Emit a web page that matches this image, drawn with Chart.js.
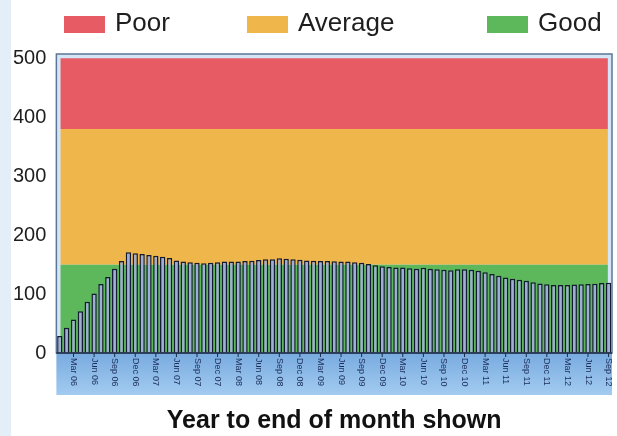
<!DOCTYPE html>
<html>
<head>
<meta charset="utf-8">
<script src="https://cdn.jsdelivr.net/npm/chart.js@4/dist/chart.umd.min.js"></script>
<style>
  html, body { margin: 0; padding: 0; background: #fff; }
  #wrap { width: 617px; height: 436px; background: linear-gradient(to right, #e4eef8 0, #e4eef8 11px, #fff 11px); }
</style>
</head>
<body>
<div id="wrap"><canvas id="c" width="617" height="436"></canvas></div>
<script>
// Monthly categories, Jan 06 to Sep 12
const months = [
  'Jan 06','Feb 06','Mar 06','Apr 06','May 06','Jun 06','Jul 06','Aug 06','Sep 06','Oct 06','Nov 06','Dec 06',
  'Jan 07','Feb 07','Mar 07','Apr 07','May 07','Jun 07','Jul 07','Aug 07','Sep 07','Oct 07','Nov 07','Dec 07',
  'Jan 08','Feb 08','Mar 08','Apr 08','May 08','Jun 08','Jul 08','Aug 08','Sep 08','Oct 08','Nov 08','Dec 08',
  'Jan 09','Feb 09','Mar 09','Apr 09','May 09','Jun 09','Jul 09','Aug 09','Sep 09','Oct 09','Nov 09','Dec 09',
  'Jan 10','Feb 10','Mar 10','Apr 10','May 10','Jun 10','Jul 10','Aug 10','Sep 10','Oct 10','Nov 10','Dec 10',
  'Jan 11','Feb 11','Mar 11','Apr 11','May 11','Jun 11','Jul 11','Aug 11','Sep 11','Oct 11','Nov 11','Dec 11',
  'Jan 12','Feb 12','Mar 12','Apr 12','May 12','Jun 12','Jul 12','Aug 12','Sep 12'
];

// Year-to-date figure at the end of each month
const values = [
  29, 43, 57, 71, 87, 101, 117, 129, 143, 156,
  171, 169, 168, 166, 165, 163, 161, 157, 155, 154,
  153, 152, 153, 154, 155, 155, 155, 156, 156.5, 157.5,
  159, 159, 160.5, 160, 159, 158, 157, 156.5, 156, 156,
  155.5, 155, 155, 154, 153, 151, 149, 147, 146, 145,
  145, 143.5, 143, 144.5, 143, 142, 141, 140.5, 142, 142,
  141, 139.5, 137, 134, 131, 128, 126, 124, 122.5, 120,
  118, 116.5, 115.5, 115.5, 115.5, 116, 116.5, 117, 117.5, 118.5, 119
];

// Value axis tick labels
const yTicks = [0, 100, 200, 300, 400, 500];

// Rating bands
const bandNames = ['Poor', 'Average', 'Good'];
const bandRanges = [[380, 500], [150, 380], [0, 150]];
const bandColors = ['#e65b64', '#efb64b', '#5db75b'];

// Months that carry a label on the time axis
const labelledMonths = ['Mar', 'Jun', 'Sep', 'Dec'];

const FONT = "'Liberation Sans', Arial, sans-serif";

const bandDatasets = bandNames.map((name, i) => ({
  type: 'bar',
  label: name,
  data: [bandRanges[i]],
  xAxisID: 'xb',
  backgroundColor: bandColors[i],
  borderWidth: 0,
  grouped: false,
  barPercentage: 0.985,
  categoryPercentage: 1,
  order: 2
}));

// Frame, time-axis strip, ticks and rotated month labels
const timeAxis = {
  id: 'timeAxis',
  beforeDraw(chart) {
    const { ctx, chartArea: a } = chart;
    ctx.save();
    ctx.fillStyle = '#d4e6f6';
    ctx.fillRect(a.left, a.top, a.right - a.left, a.bottom - a.top);
    const g = ctx.createLinearGradient(0, a.bottom, 0, a.bottom + 42);
    g.addColorStop(0, '#79abe0');
    g.addColorStop(1, '#a2cbf0');
    ctx.fillStyle = g;
    ctx.fillRect(a.left, a.bottom, a.right - a.left, 42);
    ctx.restore();
  },
  afterDatasetsDraw(chart) {
    const { ctx, chartArea: a } = chart;
    const xs = chart.scales.x;
    ctx.save();
    ctx.strokeStyle = '#5b7696';
    ctx.lineWidth = 1.5;
    ctx.strokeRect(a.left, a.top, a.right - a.left, a.bottom - a.top);
    ctx.strokeStyle = '#1c2a46';
    ctx.beginPath();
    ctx.moveTo(a.left, a.bottom);
    ctx.lineTo(a.right, a.bottom);
    ctx.stroke();
    ctx.lineWidth = 1;
    ctx.fillStyle = '#1b2d58';
    ctx.font = '9px ' + FONT;
    ctx.textAlign = 'left';
    ctx.textBaseline = 'middle';
    months.forEach((m, i) => {
      if (!labelledMonths.includes(m.slice(0, 3))) return;
      const px = xs.getPixelForValue(i);
      ctx.beginPath();
      ctx.moveTo(px, a.bottom);
      ctx.lineTo(px, a.bottom + 4);
      ctx.stroke();
      ctx.save();
      ctx.translate(px, a.bottom + 5);
      ctx.rotate(Math.PI / 2);
      ctx.fillText(m, 0, 0);
      ctx.restore();
    });
    ctx.restore();
  },
  afterDraw(chart) {
    // Legend row for the rating bands
    const { ctx } = chart;
    const starts = [64, 247, 487];
    ctx.save();
    ctx.font = '26px ' + FONT;
    ctx.textBaseline = 'middle';
    ctx.textAlign = 'left';
    chart.data.datasets.filter(d => d.xAxisID === 'xb').forEach((d, i) => {
      const x = starts[i];
      ctx.fillStyle = d.backgroundColor;
      ctx.fillRect(x, 16, 41, 17);
      ctx.fillStyle = '#1e1e1e';
      ctx.fillText(d.label, x + 51, 24);
    });
    ctx.restore();
  }
};

new Chart(document.getElementById('c'), {
  data: {
    labels: months,
    datasets: [
      {
        type: 'bar',
        label: 'Year to end of month',
        data: values,
        xAxisID: 'x',
        backgroundColor: '#a1aed3',
        borderColor: '#131c33',
        borderWidth: 1.5,
        borderSkipped: 'start',
        grouped: false,
        barPercentage: 0.78,
        categoryPercentage: 1,
        order: 1
      },
      ...bandDatasets
    ]
  },
  options: {
    responsive: false,
    animation: false,
    layout: { padding: { left: 3, right: 5, top: 54, bottom: 0 } },
    plugins: { legend: { display: false }, tooltip: { enabled: false } },
    scales: {
      x: {
        type: 'category',
        offset: true,
        grid: { display: false },
        border: { display: false },
        ticks: { display: false },
        title: {
          display: true,
          text: 'Year to end of month shown',
          color: '#111',
          font: { family: FONT, size: 25, weight: 'bold' },
          padding: { top: 0, bottom: 0 }
        },
        afterFit(s) { s.height = 83; }
      },
      xb: {
        type: 'category',
        labels: ['band'],
        display: false,
        offset: true
      },
      y: {
        type: 'linear',
        min: 0,
        max: 507,
        grid: { display: false, drawTicks: false },
        border: { display: false },
        afterBuildTicks(s) { s.ticks = yTicks.map(v => ({ value: v })); },
        ticks: {
          padding: 10,
          color: '#1e1e1e',
          font: { family: FONT, size: 20 }
        }
      }
    }
  },
  plugins: [timeAxis]
});
</script>
</body>
</html>
